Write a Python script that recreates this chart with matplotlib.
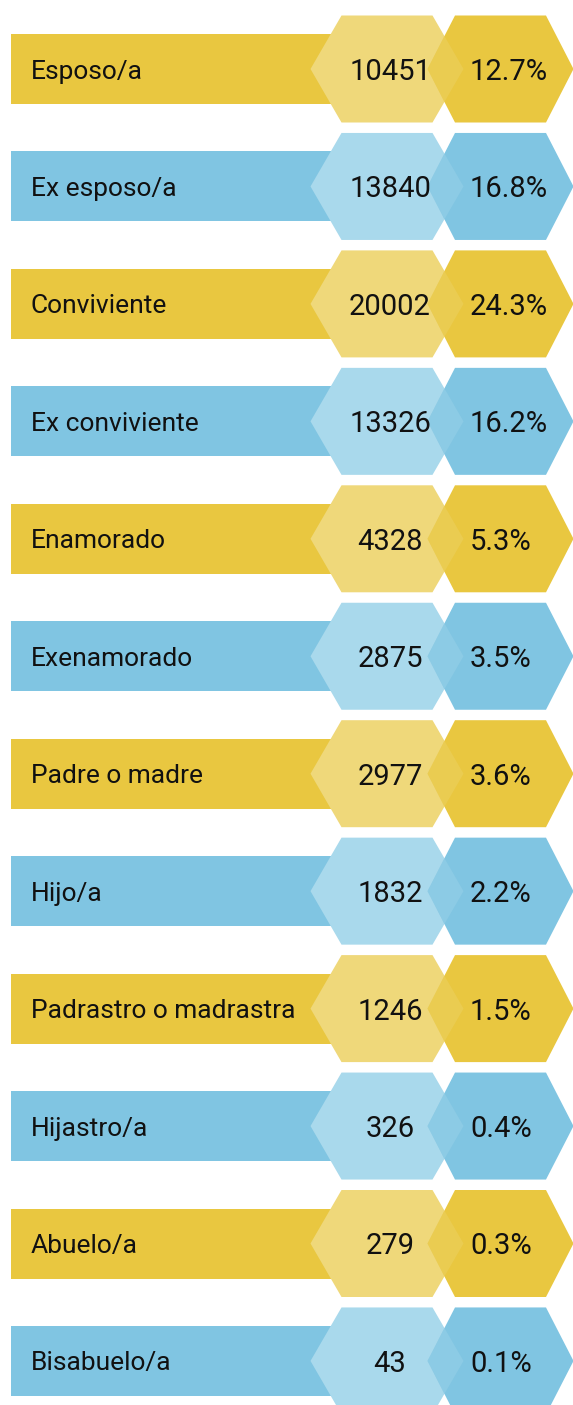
import numpy as np
import matplotlib; matplotlib.use("Agg"); import matplotlib.pyplot as plt
from matplotlib.patches import Polygon, Rectangle
from matplotlib import font_manager as fm

labels=["Esposo/a","Ex esposo/a","Conviviente","Ex conviviente","Enamorado","Exenamorado",
        "Padre o madre","Hijo/a","Padrastro o madrastra","Hijastro/a","Abuelo/a","Bisabuelo/a"]
counts=[10451,13840,20002,13326,4328,2875,2977,1832,1246,326,279,43]
pcts=[12.7,16.8,24.3,16.2,5.3,3.5,3.6,2.2,1.5,0.4,0.3,0.1]

W,H=573,1405
DARK={"y":"#e9c740","b":"#80c5e2"}; LIGHT={"y":"#efd87a","b":"#a9d9ec"}
plt.rcParams["font.family"]=["Roboto","DejaVu Sans"]
names={f.name for f in fm.fontManager.ttflist}
if "Liberation Sans Narrow" in names: LFONT,LSIZE=["Liberation Sans Narrow","DejaVu Sans"],22.5
else: LFONT,LSIZE=["Roboto","DejaVu Sans"],19

def hexagon(cx,cy,w=153,flat=91,h=107):
    s=(w-flat)/2
    return [(cx-w/2,cy),(cx-w/2+s,cy-h/2),(cx+w/2-s,cy-h/2),(cx+w/2,cy),(cx+w/2-s,cy+h/2),(cx-w/2+s,cy+h/2)]

fig=plt.figure(figsize=(W/100,H/100),dpi=100)
ax=fig.add_axes([0,0,1,1]); ax.set_xlim(0,W); ax.set_ylim(H,0); ax.axis("off")
for i,(lab,n,p) in enumerate(zip(labels,counts,pcts)):
    k="y" if i%2==0 else "b"; cy=69+i*117.45
    ax.add_patch(Rectangle((11,cy-35),330,70,color=DARK[k],lw=0,zorder=1))
    ax.add_patch(Polygon(hexagon(387,cy),closed=True,color=LIGHT[k],lw=0,zorder=2))
    h2=Polygon(hexagon(500.5,cy,w=146),closed=True,color=DARK[k],lw=0,zorder=3); ax.add_patch(h2)
    ov=Polygon(hexagon(387,cy),closed=True,color=LIGHT[k],alpha=.3,lw=0,zorder=3.5); ax.add_patch(ov); ov.set_clip_path(h2)
    ax.text(31,cy,lab,fontsize=LSIZE,family=LFONT,va="center_baseline",ha="left",color="#111",zorder=4)
    ax.text(390,cy,f"{n}",fontsize=21,va="center_baseline",ha="center",color="#111",zorder=4)
    ax.text(470,cy,f"{p:.1f}%",fontsize=21,va="center_baseline",ha="left",color="#111",zorder=4)
fig.savefig("out.png",dpi=100); plt.close(fig)
